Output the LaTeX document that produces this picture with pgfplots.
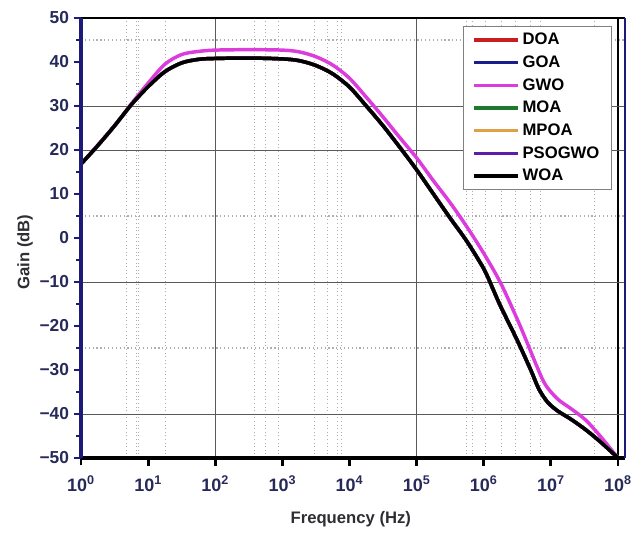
\documentclass[border=0pt]{standalone}
\usepackage{fontspec}
\setmainfont{Liberation Sans}
\usepackage{pgfplots}
\usepackage{pgfplotstable}
\pgfplotsset{compat=1.18}
\definecolor{navy}{RGB}{28,28,120}
\definecolor{ticktext}{RGB}{38,42,88}
\definecolor{labtext}{RGB}{45,45,50}
\definecolor{cDOA}{RGB}{200,30,35}
\definecolor{cGOA}{RGB}{25,30,140}
\definecolor{cGWO}{RGB}{220,60,220}
\definecolor{cMOA}{RGB}{30,120,45}
\definecolor{cMPOA}{RGB}{225,160,70}
\definecolor{cPSO}{RGB}{90,30,170}
\definecolor{gridsolid}{RGB}{90,90,90}
\definecolor{griddot}{RGB}{175,175,175}

% WOA (and overlapping DOA, GOA, MOA, MPOA, PSOGWO)
\pgfplotstableread{
f gain
1 16.8
1.778 21.0
3.162 25.5
5.623 30.3
10 34.4
17.78 37.8
31.62 39.8
56.23 40.6
100 40.8
316.2 40.9
1000 40.7
1778 40.3
3162 39.2
5623 37.3
10000 34.3
17783 30.0
31623 25.5
56234 20.6
100000 15.5
177828 10.0
316228 4.5
562341 -0.8
1000000 -7.0
1318257 -11.0
1778279 -15.5
3162278 -23.3
5011872 -30.0
6606934 -34.3
8912509 -37.3
12589254 -39.3
19952623 -41.2
33113112 -43.6
56234133 -46.5
100000000 -50.0
}\woadata

\pgfplotstableread{
f gain
1 16.8
3.162 25.5
5.623 30.5
10 35.2
17.78 39.5
31.62 41.7
56.23 42.4
100 42.7
316.2 42.8
1000 42.7
1778 42.3
3162 41.2
5623 39.3
10000 36.3
17783 32.0
31623 27.5
56234 22.8
100000 18.2
177828 13.0
316228 8.0
562341 2.5
1000000 -3.5
1778279 -10.2
3162278 -18.5
4265795 -23.2
6309573 -29.5
8317638 -33.4
12589254 -36.6
19952623 -38.8
33113112 -41.4
56234133 -45.3
100000000 -50.0
}\gwodata

\begin{document}
\begin{tikzpicture}
\useasboundingbox (-60.75pt,-57pt) rectangle (413.25pt,343.5pt);
\begin{axis}[
  at={(0,0)}, anchor=south west,
  scale only axis, width=408pt, height=330pt,
  xmode=log, xmin=1, xmax=1.27e8, ymin=-50, ymax=50,
  xtick={1,10,100,1000,10000,100000,1000000,10000000,100000000},
  xticklabels={10\textsuperscript{0},10\textsuperscript{1},10\textsuperscript{2},10\textsuperscript{3},10\textsuperscript{4},10\textsuperscript{5},10\textsuperscript{6},10\textsuperscript{7},10\textsuperscript{8}},
  xminorticks=false,
  xtick pos=left, ytick pos=left,
  ytick={-50,-40,...,50},
  yticklabels={−50,−40,−30,−20,−10,0,10,20,30,40,50},
  minor ytick={-45,-35,...,45},
  xtick align=outside, ytick align=outside,
  x tick style={draw=black, line width=2pt},
  y tick style={navy, line width=1.6pt},
  major tick length=5.5pt, minor tick length=3.5pt,
  xticklabel style={font=\bfseries\fontsize{13.5}{13.5}\selectfont, text=ticktext, yshift=-4pt},
  yticklabel style={font=\bfseries\fontsize{13}{13}\selectfont, text=ticktext},
  xlabel={Frequency (Hz)}, ylabel={Gain (dB)},
  xlabel style={font=\bfseries\fontsize{12.5}{13}\selectfont, text=labtext,
    at={(axis description cs:0.496,-0.139)}, anchor=center},
  ylabel style={font=\bfseries\fontsize{12.5}{13}\selectfont, text=labtext,
    at={(axis description cs:-0.103,0.468)}, anchor=center},
  axis line style={draw=none},
  clip=false,
  legend cell align=left,
  legend image code/.code={\draw[#1] (0pt,0pt) -- (33pt,0pt);},
  legend style={at={(0.976,0.982)}, anchor=north east, draw=gray, line width=0.8pt,
    font=\bfseries\fontsize{12.5}{12.5}\selectfont, text=black, row sep=2.8pt,
    inner xsep=7pt, inner ysep=3pt, fill=white},
  every axis plot/.append style={line width=2.6pt, smooth},
]
% grid (drawn behind the curves)
\pgfplotsinvokeforeach{4.8,6.6,7.3,18,385,560,875,3000,4700,6600,7500,5.6e5,6.9e5,1.07e6,1.86e6,3e6,5e6,7e6,4.4e7}{
  \draw[griddot, dotted, line width=0.7pt] (axis cs:#1,-50) -- (axis cs:#1,50);
}
\pgfplotsinvokeforeach{45,5,-25}{
  \draw[griddot, dotted, line width=0.9pt] (axis cs:1,#1) -- (axis cs:1.27e8,#1);
}
\pgfplotsinvokeforeach{100,100000}{
  \draw[gridsolid, line width=0.7pt] (axis cs:#1,-50) -- (axis cs:#1,50);
}
\draw[black, line width=0.8pt] (axis cs:1e8,-50) -- (axis cs:1e8,50);
\pgfplotsinvokeforeach{30,20,-10,-40}{
  \draw[gridsolid, line width=0.7pt] (axis cs:1,#1) -- (axis cs:1.27e8,#1);
}

\addplot[cDOA] table[x=f,y=gain] {\woadata};
\addlegendentry{DOA}
\addplot[cGOA] table[x=f,y=gain] {\woadata};
\addlegendentry{GOA}
\addplot[cGWO] table[x=f,y=gain] {\gwodata};
\addlegendentry{GWO}
\addplot[cMOA] table[x=f,y=gain] {\woadata};
\addlegendentry{MOA}
\addplot[cMPOA] table[x=f,y=gain] {\woadata};
\addlegendentry{MPOA}
\addplot[cPSO] table[x=f,y=gain] {\woadata};
\addlegendentry{PSOGWO}
\addplot[black] table[x=f,y=gain] {\woadata};
\addlegendentry{WOA}

% frame
\draw[black, line width=2.2pt] (rel axis cs:0,1) -- (rel axis cs:1,1);
\draw[black, line width=2.6pt] (rel axis cs:0,0) -- (rel axis cs:1,0);
\draw[navy, line width=2.2pt] (rel axis cs:1,0) -- (rel axis cs:1,1);
\draw[navy, line width=2.6pt] (rel axis cs:0,0) -- (rel axis cs:0,1);
% x tick marks (outward)
\pgfplotsinvokeforeach{10,100,1000,10000,100000,1000000,10000000,100000000}{
  \draw[black, line width=2.2pt] (axis cs:#1,-50) -- ([yshift=-6pt]axis cs:#1,-50);
}
\end{axis}
\end{tikzpicture}
\end{document}
